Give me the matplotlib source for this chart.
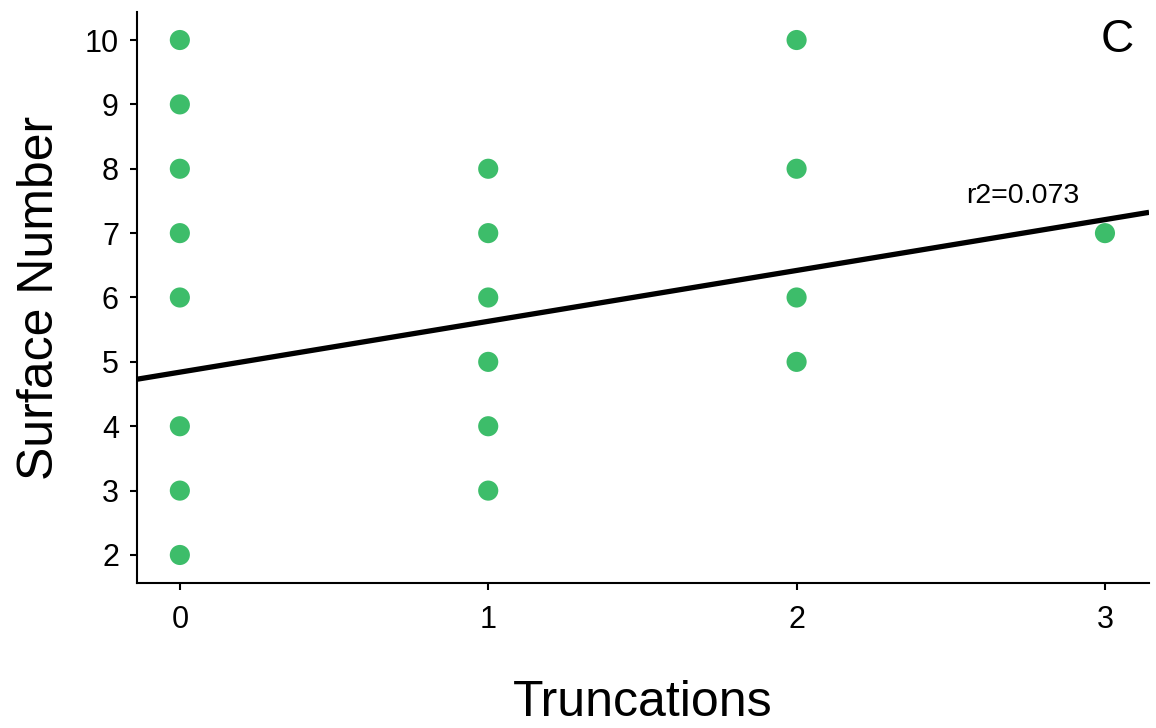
import matplotlib
matplotlib.use("Agg")
import matplotlib.pyplot as plt
import numpy as np

# Observations: number of truncations vs. surface number
truncations = [0, 0, 0, 0, 0, 0, 0, 0,
               1, 1, 1, 1, 1, 1,
               2, 2, 2, 2,
               3]
surface_number = [2, 3, 4, 6, 7, 8, 9, 10,
                  3, 4, 5, 6, 7, 8,
                  5, 6, 8, 10,
                  7]

# Fitted regression line
fit_intercept = 4.84
fit_slope = 0.79
r2_text = "r2=0.073"

x_ticks = [0, 1, 2, 3]
y_ticks = [2, 3, 4, 5, 6, 7, 8, 9, 10]

plt.rcParams['font.family'] = ['Liberation Sans', 'DejaVu Sans']
narrow = ['Liberation Sans Narrow', 'Liberation Sans', 'DejaVu Sans']

fig = plt.figure(figsize=(11.56, 7.28), dpi=100)
ax = fig.add_axes([0.1185, 0.1992, 0.8755, 0.7843])

xlim = (-0.139, 3.143)
ylim = (1.565, 10.435)

ax.scatter(truncations, surface_number, s=210, color='#3dbd6a',
           edgecolors='none', zorder=3)

xs = np.array(xlim)
ax.plot(xs, fit_intercept + fit_slope * xs, color='black', lw=3.8,
        solid_capstyle='butt', zorder=4)

ax.text(2.735, 7.47, r2_text, fontsize=20.5, ha='center', va='baseline')
ax.text(0.985, 0.99, "C", transform=ax.transAxes, fontsize=33,
        ha='right', va='top')

ax.set_xlim(*xlim)
ax.set_ylim(*ylim)
ax.set_xticks(x_ticks)
ax.set_yticks(y_ticks)
for lab in ax.get_xticklabels() + ax.get_yticklabels():
    lab.set_family(narrow)
    lab.set_fontsize(22)

ax.spines['top'].set_visible(False)
ax.spines['right'].set_visible(False)
for s in ('left', 'bottom'):
    ax.spines[s].set_linewidth(1.5)
ax.tick_params(axis='y', length=5, width=1.5, pad=8)
ax.tick_params(axis='x', length=5, width=1.5, pad=11)

ax.set_xlabel("Truncations", fontsize=36, labelpad=32)
ax.set_ylabel("Surface Number", fontsize=36, labelpad=16)

fig.savefig("out.png", dpi=100, facecolor='white')
